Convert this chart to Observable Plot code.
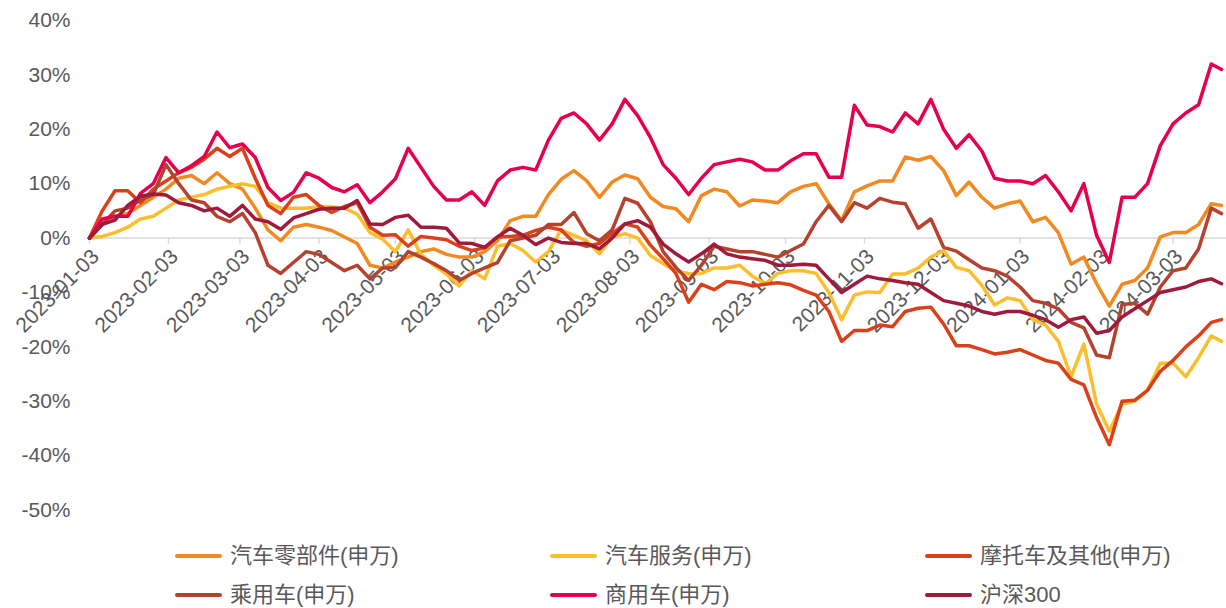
<!DOCTYPE html>
<html><head><meta charset="utf-8">
<script src="https://cdn.jsdelivr.net/npm/d3@7"></script>
<script src="https://cdn.jsdelivr.net/npm/@observablehq/plot@0.6"></script>
<style>
body{margin:0;background:#fff;}
#wrap{position:relative;width:1226px;height:608px;font-family:"Liberation Sans",Arial,"Noto Sans CJK SC",sans-serif;}
#legend{position:absolute;left:0;top:530px;width:1226px;height:78px;}
.item{position:absolute;display:flex;align-items:center;font-size:22px;line-height:26px;color:#595959;white-space:nowrap;}
.sw{width:47px;height:4.5px;margin-right:8px;border-radius:2px;}
</style></head><body>
<div id="wrap"><div id="chart"></div><div id="legend"></div></div>
<script>
const dates = ["2023-01-03","2023-01-08","2023-01-13","2023-01-18","2023-01-23","2023-01-28","2023-02-02","2023-02-07","2023-02-12","2023-02-17",
"2023-02-22","2023-02-27","2023-03-04","2023-03-09","2023-03-14","2023-03-19","2023-03-24","2023-03-29","2023-04-03","2023-04-08",
"2023-04-13","2023-04-18","2023-04-23","2023-04-28","2023-05-03","2023-05-08","2023-05-13","2023-05-18","2023-05-23","2023-05-28",
"2023-06-02","2023-06-07","2023-06-12","2023-06-17","2023-06-22","2023-06-27","2023-07-02","2023-07-07","2023-07-12","2023-07-17",
"2023-07-22","2023-07-27","2023-08-01","2023-08-06","2023-08-11","2023-08-16","2023-08-21","2023-08-26","2023-08-31","2023-09-05",
"2023-09-10","2023-09-15","2023-09-20","2023-09-25","2023-09-30","2023-10-05","2023-10-10","2023-10-15","2023-10-20","2023-10-25",
"2023-10-30","2023-11-04","2023-11-09","2023-11-14","2023-11-19","2023-11-24","2023-11-29","2023-12-04","2023-12-09","2023-12-14",
"2023-12-19","2023-12-24","2023-12-29","2024-01-03","2024-01-08","2024-01-13","2024-01-18","2024-01-23","2024-01-28","2024-02-02",
"2024-02-07","2024-02-12","2024-02-17","2024-02-22","2024-02-27","2024-03-03","2024-03-08","2024-03-13","2024-03-18","2024-03-22"];

// values in %
const autoParts = [0,2.5,4,4.5,6,7.5,9,11,11.5,10, 12,10,9,5.5,1.5,-0.5,2,2.5,2,1.4, 0.2,-1,-5,-5.5,-4.4,-3.5,-2.5,-2,-3,-3.5,
-3.5,-2.5,-0.5,3.2,4,4,8,10.8,12.4,10.5, 7.5,10.3,11.6,10.9,7.5,5.8,5.4,3,7.8,9, 8.5,5.9,7,6.8,6.5,8.5,9.5,10,6.3,3.2,
8.5,9.6,10.5,10.5,14.9,14.3,15,12.4,7.8,10.3, 7.5,5.5,6.3,6.8,3,3.8,1,-4.8,-3.5,-8.4, -12.5,-8.5,-7.8,-5.5,0.2,1,1,2.5,6.3,6];
const autoService = [0,0.3,1,2,3.5,4,5.5,7,7.5,8, 9,9.5,10,9.5,6.5,5.5,5.5,5.5,5.8,5.7, 5.5,4.4,1,-0.2,-2.5,1.5,-3,-5,-6.6,-8.8,
-6,-7.5,-1.5,-1,-2.3,-4.4,-2.5,1.5,0.5,-0.5, -2.9,0.2,0.8,0,-3.2,-4.7,-6,-6.6,-6.5,-5.5, -5.5,-5,-7,-8.4,-6.5,-6,-6,-6.5,-10,-15,
-10.5,-9.9,-10,-6.6,-6.6,-5.5,-3.5,-2.3,-5.4,-6, -8.7,-12.3,-11,-11.5,-15,-16,-19,-25.5,-19.5,-30.5, -35.5,-30.5,-30,-28,-23,-23,-25.5,-22,-18,-19];
const motorcycle = [0,5,8.7,8.7,6.5,9,10.5,12,13,14.5, 16.5,15,16.5,11,6,4.5,7.5,8,6,4.7, 5.8,6.5,2,0.5,0.6,-1.5,0.3,0,-0.3,-1.5,
-2.3,-1.8,0.2,0.3,0.5,1.4,2,1.5,-0.8,-1.5, -1,0.8,2.6,2,-1.3,-3.8,-6.5,-11.8,-8.5,-9.5, -8,-8.2,-8.8,-8.5,-8.2,-8.6,-9.6,-10.5,-13.5,-19,
-17,-17,-16,-16.3,-13.5,-12.9,-12.7,-15.8,-19.8,-19.8, -20.5,-21.3,-21,-20.5,-21.5,-22.5,-23,-26,-27,-33, -38,-30,-29.8,-28,-24.5,-22.5,-20,-18,-15.5,-15];
const passengerCar = [0,2.5,5,5.5,7,8,13.5,10,7,6.5, 4,3,4.5,1,-5,-6.5,-4.5,-2.5,-3,-4.5, -6,-5,-7.5,-5.5,-5.4,-2.5,-3.5,-4.7,-6,-7.8,
-6.5,-5.5,-4.5,-0.5,0,0.5,2.5,2.5,4.7,0.8, -0.5,1.5,7.3,6.4,3,-2.5,-5.4,-7.8,-5,-1.5, -2,-2.5,-2.5,-3,-3.5,-2.3,-1.1,3,6,3,
6.5,5.5,7.3,6.6,6.3,1.8,3.5,-1.7,-2.4,-4, -5.5,-6,-7,-9,-11.5,-12,-13,-15.5,-16.5,-21.5, -22,-12.2,-12,-14,-9,-6,-5.5,-2,5.5,4.5];
const commercialCar = [0,3.5,4,4,8.2,10,14.8,12,13.3,15, 19.5,16.6,17.3,14.8,9.3,6.9,8.4,12,11,9.3, 8.5,9.8,6.5,8.5,10.9,16.5,13,9.5,7,7,
8.5,6,10.5,12.5,13,12.5,18,22,23,21, 18,21,25.5,22.5,18.5,13.5,11,8,11,13.5, 14,14.5,14,12.5,12.5,14.2,15.5,15.5,11.2,11.2,
24.4,20.8,20.5,19.5,23,21,25.5,20,16.5,19, 16,11,10.5,10.5,10,11.5,8.5,5,10,0.5, -4.5,7.5,7.5,10,17,21,23,24.5,32,31];
const hs300 = [0,2.5,3.3,6,7.7,8.1,7.9,6.5,6,5, 5.5,4,6,3.5,3,1.6,3.7,4.5,5.3,5.5, 5.5,6.9,2.6,2.5,3.8,4.2,2,2,1.8,-0.9,
-1,-1.7,0.2,1.8,0.5,-1.2,0,-0.8,-1,-1, -2,0,2.6,3.2,2,-1.1,-2.9,-4.4,-2.9,-1.1, -2.9,-3.5,-3.8,-4.1,-5,-5,-4.8,-5,-7.5,-10,
-8.5,-7,-7.5,-7.8,-8.2,-8.5,-10,-11.5,-12,-12.5, -13.5,-14,-13.5,-13.5,-14.2,-15,-16.4,-15,-14.5,-17.5, -17,-14.5,-13,-11.5,-10,-9.5,-9,-8,-7.5,-8.4];

const seriesNames = ["汽车零部件(申万)","汽车服务(申万)","摩托车及其他(申万)","乘用车(申万)","商用车(申万)","沪深300"];
const seriesValues = [autoParts, autoService, motorcycle, passengerCar, commercialCar, hs300];
const seriesColors = ["#F28921","#FCBE2C","#DA401A","#B4422E","#E6004C","#A01A3C"];
const xTickLabels = ["2023-01-03","2023-02-03","2023-03-03","2023-04-03","2023-05-03","2023-06-03","2023-07-03","2023-08-03",
"2023-09-03","2023-10-03","2023-11-03","2023-12-03","2024-01-03","2024-02-03","2024-03-03"];
const yTicks = [-50,-40,-30,-20,-10,0,10,20,30,40];

const rows = [];
seriesNames.forEach((name, i) => {
  seriesValues[i].forEach((v, k) => rows.push({series: name, date: new Date(dates[k]), value: v}));
});

const chart = Plot.plot({
  width: 1226, height: 530,
  marginLeft: 89, marginRight: 5, marginTop: 20, marginBottom: 20.5,
  style: {fontFamily: '"Liberation Sans", Arial, sans-serif', color: "#595959", background: "#fff", overflow: "visible"},
  x: {type: "utc", domain: [new Date(dates[0]), new Date(dates[dates.length - 1])], axis: null},
  y: {domain: [-50, 40], axis: null, label: null},
  color: {domain: seriesNames, range: seriesColors},
  marks: [
    Plot.axisY({ticks: yTicks, tickSize: 0, tickPadding: 19, tickFormat: d => d + "%", fontSize: 21, label: null}),
    Plot.ruleY([0], {stroke: "#d9d9d9", strokeWidth: 1.5, insetLeft: -2, insetRight: -5}),
    Plot.ruleX(xTickLabels, {x: d => new Date(d), y1: 0, y2: 0, insetBottom: -6, stroke: "#d9d9d9", strokeWidth: 1.5}),
    Plot.text(xTickLabels, {x: d => new Date(d), y: 0, text: d => d, rotate: -45, textAnchor: "end", dx: 6, dy: 15, fontSize: 21, fill: "#595959"}),
    Plot.line(rows, {x: "date", y: "value", z: "series", stroke: "series", strokeWidth: 3.5, strokeLinejoin: "round"})
  ]
});
document.getElementById("chart").appendChild(chart);

const legend = document.getElementById("legend");
seriesNames.forEach((name, i) => {
  const item = document.createElement("div");
  item.className = "item";
  item.style.left = (175 + (i % 3) * 375) + "px";
  item.style.top = (Math.floor(i / 3) === 0 ? 13 : 52) + "px";
  const sw = document.createElement("div");
  sw.className = "sw";
  sw.style.background = seriesColors[i];
  const t = document.createElement("span");
  t.textContent = name;
  item.appendChild(sw); item.appendChild(t);
  legend.appendChild(item);
});
</script></body></html>
